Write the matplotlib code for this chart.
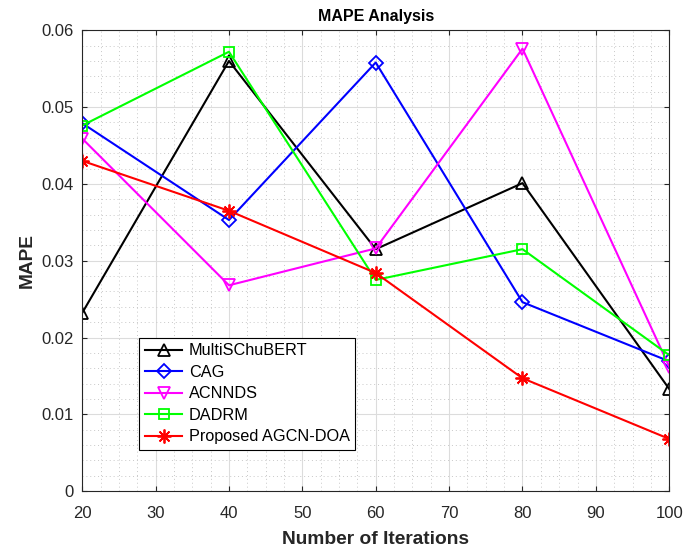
import matplotlib.pyplot as plt
from matplotlib.ticker import MultipleLocator, FuncFormatter

plt.rcParams['font.family'] = ['Liberation Sans', 'DejaVu Sans']

iterations = [20, 40, 60, 80, 100]
multischubert = [0.0232, 0.0560, 0.0315, 0.0401, 0.0133]
cag = [0.0479, 0.0353, 0.0558, 0.0246, 0.0169]
acnnds = [0.0459, 0.0268, 0.0316, 0.0576, 0.0162]
dadrm = [0.0476, 0.0572, 0.0275, 0.0315, 0.0177]
proposed = [0.0430, 0.0365, 0.0284, 0.0147, 0.0068]

fig = plt.figure(figsize=(6.85, 5.5), dpi=100)
ax = fig.add_axes([0.12, 0.107, 0.857, 0.838])

ax.plot(iterations, multischubert, color='black', marker='^', mfc='none', ms=9, mew=1.3, lw=1.5, label='MultiSChuBERT')
ax.plot(iterations, cag, color='blue', marker='D', mfc='none', ms=7, mew=1.3, lw=1.5, label='CAG')
ax.plot(iterations, acnnds, color='magenta', marker='v', mfc='none', ms=9, mew=1.3, lw=1.5, label='ACNNDS')
ax.plot(iterations, dadrm, color='lime', marker='s', mfc='none', ms=7, mew=1.3, lw=1.5, label='DADRM')
ax.plot(iterations, proposed, color='red', marker=(8, 2, 0), ms=10, mew=1.3, lw=1.5, label='Proposed AGCN-DOA')

ax.set_xlim(20, 100)
ax.set_ylim(0, 0.06)
ax.xaxis.set_major_locator(MultipleLocator(10))
ax.xaxis.set_minor_locator(MultipleLocator(2.5))
ax.yaxis.set_major_locator(MultipleLocator(0.01))
ax.yaxis.set_minor_locator(MultipleLocator(0.002))
ax.yaxis.set_major_formatter(FuncFormatter(lambda v, p: '%g' % round(v, 4)))

ax.grid(which='major', color='#dcdcdc', lw=0.8)
ax.grid(which='minor', color='#c8c8c8', lw=0.7, ls=(0, (1, 3)))
ax.set_axisbelow(True)
ax.tick_params(which='both', direction='in', top=True, right=True, labelsize=12, colors='#262626')
ax.tick_params(axis='x', pad=11)
ax.tick_params(axis='y', pad=6)
ax.tick_params(which='minor', length=0)
for s in ax.spines.values():
    s.set_color('#262626')

ax.set_title('MAPE Analysis', fontsize=11.5, fontweight='bold', pad=7)
ax.set_xlabel('Number of Iterations', fontsize=13.8, fontweight='bold', color='#262626', labelpad=7)
ax.set_ylabel('MAPE', fontsize=13.8, fontweight='bold', color='#262626')

leg = ax.legend(loc='lower left', bbox_to_anchor=(0.097, 0.089), borderaxespad=0, fontsize=11.7,
                fancybox=False, edgecolor='black', framealpha=1, borderpad=0.35, labelspacing=0.4,
                handlelength=2.3, handletextpad=0.4)
leg.get_frame().set_linewidth(0.8)

fig.savefig('out.png', dpi=100)
